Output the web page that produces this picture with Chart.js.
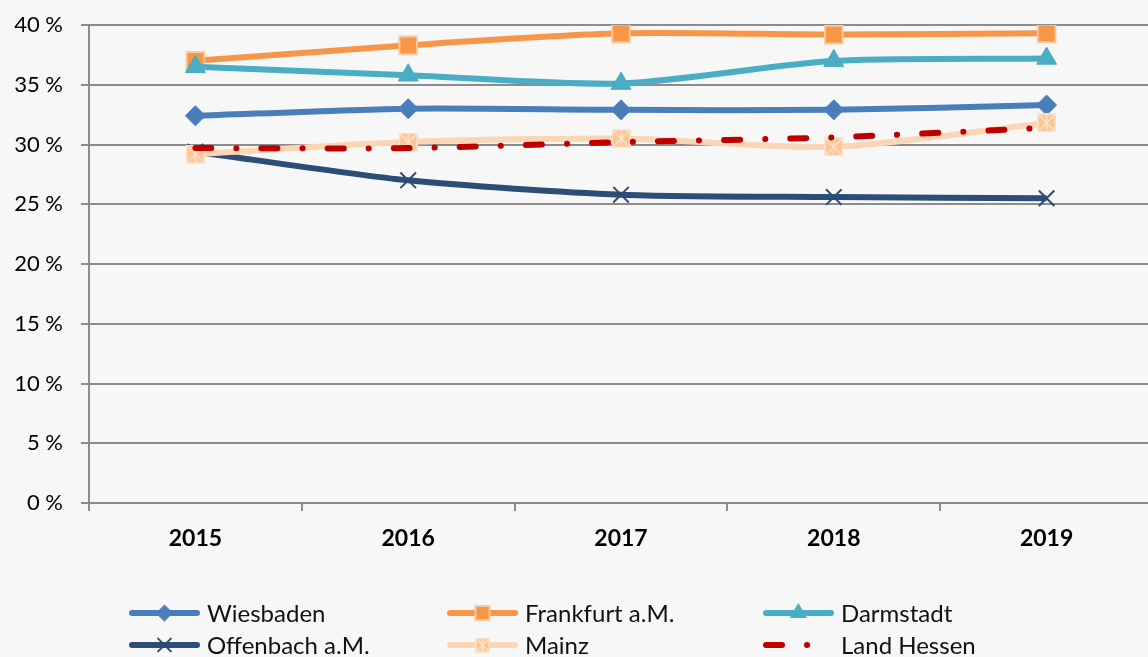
<html>
<head>
<meta charset="utf-8">
<script src="https://cdn.jsdelivr.net/npm/chart.js@4.4.0/dist/chart.umd.min.js"></script>
<style>
body {margin:0; background:#f7f7f7; overflow:hidden;}
#canvas {display:block;}
</style>
</head>
<body>
<canvas id="canvas" width="1169" height="657"></canvas>
<script>
// data (percent)
var years = ['2015', '2016', '2017', '2018', '2019'];
var wiesbaden  = [32.4, 33.0, 32.9, 32.9, 33.3];
var frankfurt  = [37.0, 38.3, 39.3, 39.2, 39.3];
var darmstadt  = [36.5, 35.8, 35.1, 37.0, 37.2];
var offenbach  = [29.4, 27.0, 25.8, 25.6, 25.5];
var mainz      = [29.2, 30.2, 30.5, 29.8, 31.8];
var landHessen = [29.7, 29.7, 30.2, 30.6, 31.4];
var yTicks = [0, 5, 10, 15, 20, 25, 30, 35, 40];

var FONT = 'Lato';
var GRID = '#8c8c8c';

// mainz marker: pale square with a star inside
function starBox(size) {
  var c = document.createElement('canvas');
  c.width = size; c.height = size;
  var g = c.getContext('2d');
  g.fillStyle = '#fbc595';
  g.fillRect(0, 0, size, size);
  g.strokeStyle = '#fde3cc';
  g.lineWidth = 1.5;
  g.strokeRect(0.75, 0.75, size - 1.5, size - 1.5);
  g.beginPath();
  g.moveTo(2, 2); g.lineTo(size - 2, size - 2);
  g.moveTo(size - 2, 2); g.lineTo(2, size - 2);
  g.moveTo(size / 2, 2); g.lineTo(size / 2, size - 2);
  g.stroke();
  return c;
}
var mainzPoint = starBox(19);
var mainzLegend = starBox(15);

var hessenDash = [16, 25, 0.1, 25];

var datasets = [
  {label:'Wiesbaden', data:wiesbaden, borderColor:'#4a7ebb', backgroundColor:'#4a7ebb',
   pointStyle:'rectRot', pointRadius:10, pointBorderWidth:1, pointBorderColor:'#4a7ebb', order:6, legendRadius:8},
  {label:'Frankfurt a.M.', data:frankfurt, borderColor:'#f79646', backgroundColor:'#f79646',
   pointStyle:'rect', pointRadius:12.5, pointBorderWidth:2, pointBorderColor:'#fbc9a0', order:5, legendRadius:10},
  {label:'Darmstadt', data:darmstadt, borderColor:'#4bacc6', backgroundColor:'#4bacc6',
   pointStyle:'triangle', pointRadius:11.5, pointBorderWidth:1, pointBorderColor:'#4bacc6', order:4, legendRadius:9},
  {label:'Offenbach a.M.', data:offenbach, borderColor:'#2c4d75', backgroundColor:'#2c4d75',
   pointStyle:'crossRot', pointRadius:11, pointBorderWidth:2, pointBorderColor:'#2c4d75', order:3, legendRadius:9},
  {label:'Mainz', data:mainz, borderColor:'#fcd5b5', backgroundColor:'#fbc595',
   pointStyle:mainzPoint, pointRadius:10, order:2, legendImg:mainzLegend},
  {label:'Land Hessen', data:landHessen, borderColor:'#c00000', backgroundColor:'#c00000',
   pointRadius:0, borderDash:hessenDash, borderCapStyle:'round', order:1, noMarker:true}
];
datasets.forEach(function(d){
  d.borderWidth = 6;
  d.tension = 0.25;
  d.pointHoverRadius = d.pointRadius;
  if (!d.pointBackgroundColor) d.pointBackgroundColor = d.backgroundColor;
});

// legend in three columns under the plot
var legendCols = [129, 447, 763];
var legendRows = [613, 645];
var legendPlugin = {
  id: 'gridLegend',
  afterDraw: function(chart) {
    var ctx = chart.ctx;
    chart.data.datasets.forEach(function(ds, i) {
      var x0 = legendCols[i % 3], y = legendRows[Math.floor(i / 3)];
      var x1 = x0 + 71, xm = (x0 + x1) / 2;
      ctx.save();
      ctx.strokeStyle = ds.borderColor;
      ctx.lineWidth = 6;
      ctx.lineCap = 'round';
      if (ds.borderDash) ctx.setLineDash(ds.borderDash);
      ctx.beginPath();
      ctx.moveTo(x0 + 3, y);
      ctx.lineTo(x1 - 3, y);
      ctx.stroke();
      ctx.setLineDash([]);
      if (ds.legendImg) {
        ctx.drawImage(ds.legendImg, xm - ds.legendImg.width / 2, y - ds.legendImg.height / 2);
      } else if (!ds.noMarker) {
        ctx.fillStyle = ds.pointBackgroundColor;
        ctx.strokeStyle = ds.pointBorderColor;
        ctx.lineWidth = ds.pointBorderWidth;
        Chart.helpers.drawPoint(ctx, {pointStyle: ds.pointStyle, radius: ds.legendRadius, borderWidth: ds.pointBorderWidth, rotation: 0}, xm, y);
      }
      ctx.fillStyle = '#111';
      ctx.font = '24px ' + FONT;
      ctx.textBaseline = 'middle';
      ctx.textAlign = 'left';
      ctx.fillText(ds.label, x1 + 7, y + 1);
      ctx.restore();
    });
  }
};

var ctx = document.getElementById('canvas').getContext('2d');
var chart = new Chart(ctx, {
  type: 'line',
  data: {labels: years, datasets: datasets},
  plugins: [legendPlugin],
  options: {
    responsive: false,
    animation: false,
    layout: {padding: {top: 25, right: 2, left: 0, bottom: 0}},
    plugins: {legend: {display: false}, tooltip: {enabled: false}},
    scales: {
      x: {
        offset: true,
        afterFit: function(s) { s.height = 154; s.paddingLeft = 0; s.paddingRight = 0; },
        grid: {display: true, drawOnChartArea: false, offset: true, tickLength: 8, color: GRID, lineWidth: 2},
        border: {display: true, color: GRID, width: 2},
        ticks: {color: '#000', padding: 14, font: {family: FONT, size: 23, weight: 'bold'}}
      },
      y: {
        min: 0, max: 40,
        afterFit: function(s) { s.width = 89; s.paddingTop = 0; s.paddingBottom = 0; },
        afterBuildTicks: function(s) { s.ticks = yTicks.map(function(v){ return {value: v}; }); },
        grid: {color: GRID, lineWidth: 2, tickLength: 8},
        border: {display: true, color: GRID, width: 2},
        ticks: {color: '#000', padding: 18, font: {family: FONT, size: 22},
          callback: function(v) { return v + ' %'; }}
      }
    }
  }
});
</script>
</body>
</html>
